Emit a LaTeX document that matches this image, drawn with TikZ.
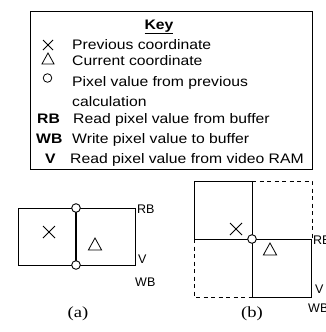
\documentclass[tikz,border=0pt]{standalone}
\usepackage{fontspec}
\setmainfont{Liberation Sans}
\newfontfamily\keyfont[FakeStretch=1.14]{Liberation Sans}
\newfontfamily\capfont[FakeStretch=1.2]{Liberation Serif}
\begin{document}
\begin{tikzpicture}[x=1pt,y=-1pt,
  frame/.style={line width=0.9pt},
  thickline/.style={line width=1.5pt},
  dashedline/.style={line width=0.9pt, dash pattern=on 4pt off 3.5pt},
  dot/.style={circle, draw, fill=white, line width=0.9pt, minimum size=8.6pt, inner sep=0pt},
  keydot/.style={circle, draw, line width=0.8pt, minimum size=8.6pt, inner sep=0pt},
  keytext/.style={anchor=base west, inner sep=0pt, font=\keyfont\fontsize{13.8}{16}\selectfont},
  keysym/.style={anchor=base west, inner sep=0pt, font=\keyfont\bfseries\fontsize{13.8}{16}\selectfont},
  lbl/.style={anchor=base west, inner sep=0pt, font=\fontsize{12.5}{14}\selectfont},
  caption/.style={anchor=base, inner sep=0pt, font=\capfont\fontsize{15.5}{17}\selectfont},
  xsym/.pic={\draw[line width=0.8pt] (-#1,-#1)--(#1,#1) (-#1,#1)--(#1,-#1);},
  tsym/.pic={\draw[line width=0.8pt] (0,-#1)--(1.1*#1,#1)--(-1.1*#1,#1)--cycle;}
]
\useasboundingbox (0,0) rectangle (326,332);

% ---------- Key ----------
\draw[frame] (30,11) rectangle (312,169);
\node[anchor=base, inner sep=0pt, font=\keyfont\bfseries\fontsize{13.8}{16}\selectfont] (keytitle) at (159,29) {\underline{Key}};
\pic at (48,45) {xsym=5};
\pic at (48,58.5) {tsym=5.5};
\node[keydot] (keycirc) at (47.5,78) {};
\node[keytext] (k1) at (72,49) {Previous coordinate};
\node[keytext] (k2) at (72,65) {Current coordinate};
\node[keytext] (k3) at (72,86) {Pixel value from previous};
\node[keytext] (k4) at (72,106) {calculation};
\node[keysym] (krb) at (37,123) {RB};
\node[keytext] (k5) at (73,123) {Read pixel value from buffer};
\node[keysym] (kwb) at (36,143) {WB};
\node[keytext] (k6) at (72,143) {Write pixel value to buffer};
\node[keysym] (kv) at (45,163) {V};
\node[keytext] (k7) at (70,163) {Read pixel value from video RAM};

% ---------- (a) ----------
\coordinate (atl) at (18,208);
\coordinate (abr) at (135,265);
\coordinate (amt) at (76,208);
\coordinate (amb) at (76,265);
\draw[frame] (atl) rectangle (abr);
\draw[thickline] (amt) -- (amb);
\node[dot] (acirc1) at (amt) {};
\node[dot] (acirc2) at (amb) {};
\pic at (49,232) {xsym=6};
\pic at (95,244) {tsym=6};
\node[lbl] (arb) at (137,213) {RB};
\node[lbl] (av) at (138,263) {V};
\node[lbl] (awb) at (135,286) {WB};
\node[caption] (capa) at (78,317) {(a)};

% ---------- (b) ----------
\coordinate (b1) at (194,181);
\coordinate (b2) at (252,181);
\coordinate (b3) at (312,181);
\coordinate (b4) at (194,239);
\coordinate (b5) at (252,239);
\coordinate (b6) at (311,239);
\coordinate (b7) at (194,297);
\coordinate (b8) at (252,297);
\coordinate (b9) at (311,297);
\draw[frame] (b4) -- (b1) -- (b2) -- (b8) -- (b9) -- (b6) -- cycle;
\draw[dashedline] (b2) -- (b3) -- (312,239);
\draw[dashedline] (b4) -- (b7) -- (b8);
\node[dot] (bcirc) at (b5) {};
\pic at (236,229) {xsym=6};
\pic at (270,249) {tsym=6};
\node[lbl] (brb) at (313,244) {RB};
\node[lbl] (bv) at (315,293) {V};
\node[lbl] (bwb) at (308,312) {WB};
\node[caption] (capb) at (252,317) {(b)};
\end{tikzpicture}
\end{document}
